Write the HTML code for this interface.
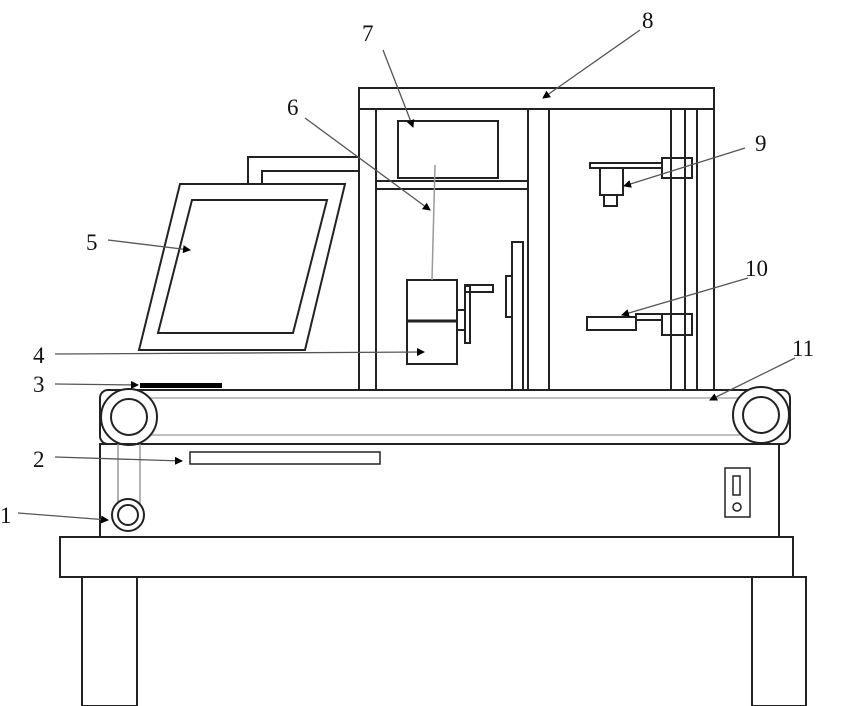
<!DOCTYPE html>
<html><head><style>body{margin:0;background:#fff}svg{display:block}text{font-family:"Liberation Serif",serif;font-size:23px;fill:#111}</style></head><body>
<svg width="850" height="706" viewBox="0 0 850 706" xmlns="http://www.w3.org/2000/svg">
<defs><marker id="a" markerWidth="8" markerHeight="8" refX="7" refY="4" orient="auto" markerUnits="userSpaceOnUse"><path d="M0,0 L8,4 L0,8z" fill="#000"/></marker></defs>
<g fill="none" stroke="#222" stroke-width="2">
<!-- frame -->
<rect x="359" y="88" width="355" height="21"/>
<rect x="359" y="109" width="17" height="281"/>
<rect x="528" y="109" width="21" height="281"/>
<rect x="671" y="109" width="14" height="281"/>
<rect x="697" y="109" width="17" height="281"/>
<rect x="398" y="121" width="100" height="57"/>
<rect x="376" y="181" width="152" height="8"/>
<!-- block 4 -->
<rect x="407" y="280" width="50" height="84"/>
<line x1="407" y1="321" x2="457" y2="321" stroke-width="3"/>
<rect x="457" y="310" width="8" height="20"/>
<rect x="465" y="286" width="5" height="57"/>
<rect x="465" y="285" width="28" height="7"/>
<rect x="506" y="276" width="6" height="41"/>
<rect x="512" y="242" width="11" height="148"/>
<!-- right -->
<rect x="590" y="163" width="72" height="5"/>
<rect x="662" y="158" width="30" height="20"/>
<rect x="600" y="168" width="23" height="27"/>
<rect x="604" y="195" width="13" height="11"/>
<rect x="587" y="317" width="49" height="13"/>
<rect x="636" y="314" width="26" height="6"/>
<rect x="662" y="314" width="30" height="21"/>
<!-- monitor -->
<polyline points="248,184 248,157 359,157"/>
<polyline points="262,184 262,171 359,171"/>
<polygon points="180,184 345,184 305,350 139,350" fill="#fff"/>
<polygon points="192,200 327,200 293,333 158,333"/>
<!-- conveyor -->
<rect x="100" y="390" width="690" height="54" rx="8"/>
<line x1="150" y1="398" x2="740" y2="398" stroke="#aaa" stroke-width="1.5"/>
<line x1="150" y1="435" x2="740" y2="435" stroke="#aaa" stroke-width="1.5"/>
<circle cx="129" cy="417" r="28" fill="#fff"/><circle cx="129" cy="417" r="18"/>
<circle cx="761" cy="415" r="28" fill="#fff"/><circle cx="761" cy="415" r="18"/>
<rect x="100" y="444" width="679" height="93"/>
<rect x="190" y="452" width="190" height="12" stroke-width="1.5"/>
<line x1="118" y1="444" x2="118" y2="505" stroke="#999" stroke-width="1.5"/>
<line x1="140" y1="444" x2="140" y2="505" stroke="#999" stroke-width="1.5"/>
<circle cx="128" cy="515" r="16" fill="#fff"/><circle cx="128" cy="515" r="10"/>
<rect x="725" y="468" width="25" height="49" stroke-width="1.5"/>
<rect x="733" y="476" width="7" height="19" stroke-width="1.5"/>
<circle cx="737" cy="507" r="4" stroke-width="1.5"/>
<!-- table -->
<rect x="60" y="537" width="733" height="40"/>
<rect x="82" y="577" width="55" height="129"/>
<rect x="752" y="577" width="54" height="129"/>
</g>
<rect x="140" y="383" width="82" height="5" fill="#000"/>
<line x1="435" y1="165" x2="432" y2="280" stroke="#999" stroke-width="1.5"/>
<g stroke="#555" stroke-width="1.3" marker-end="url(#a)">
<line x1="18" y1="513" x2="108" y2="520"/>
<line x1="55" y1="457" x2="182" y2="461"/>
<line x1="55" y1="384" x2="138" y2="385"/>
<line x1="55" y1="354" x2="424" y2="352"/>
<line x1="108" y1="240" x2="190" y2="250"/>
<line x1="305" y1="118" x2="430" y2="210"/>
<line x1="383" y1="50" x2="413" y2="127"/>
<line x1="640" y1="30" x2="543" y2="98"/>
<line x1="745" y1="148" x2="624" y2="186"/>
<line x1="748" y1="278" x2="622" y2="315"/>
<line x1="795" y1="358" x2="710" y2="400"/>
</g>
<text x="0" y="523">1</text><text x="33" y="467">2</text><text x="33" y="392">3</text><text x="33" y="363">4</text><text x="86" y="250">5</text><text x="287" y="115">6</text><text x="362" y="41">7</text><text x="642" y="28">8</text><text x="755" y="151">9</text><text x="745" y="276">10</text><text x="792" y="356">11</text>
</svg>
</body></html>
